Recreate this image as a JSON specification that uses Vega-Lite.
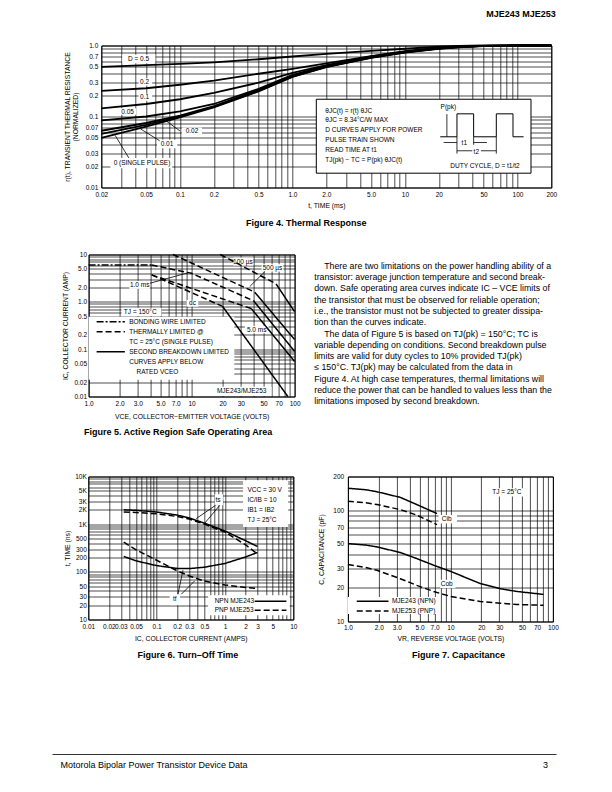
{
"$schema":"https://vega.github.io/schema/vega-lite/v6.json",
"padding":{"left":52,"top":9.5,"right":4,"bottom":4},
"title":{"text":"MJE243 MJE253","anchor":"end","frame":"bounds","fontSize":9,"fontWeight":"bold","offset":22,"dx":-3},
"config":{
 "font":"Liberation Sans",
 "view":{"stroke":"#000","strokeWidth":1},
 "mark":{"color":"#000"},
 "axis":{"grid":true,"gridColor":"#000","gridOpacity":1,"gridWidth":0.7,"domain":false,"ticks":false,"labelFontSize":6.5,"labelColor":"#000","titleFontSize":6.8,"titleFontWeight":"normal","titleColor":"#000","labelOverlap":false,"labelFlush":false,"labelBound":false},
 "title":{"fontSize":9,"fontWeight":"bold","color":"#000","frame":"group","anchor":"middle"},
 "text":{"fontSize":6.5,"baseline":"middle"}
},
"datasets":{
 "f4lines":[
  {"s":"a","x":0.02,"y":0.5},{"s":"a","x":0.05,"y":0.53},{"s":"a","x":0.1,"y":0.55},{"s":"a","x":0.2,"y":0.58},{"s":"a","x":0.5,"y":0.64},{"s":"a","x":1,"y":0.7},{"s":"a","x":2,"y":0.76},{"s":"a","x":5,"y":0.84},{"s":"a","x":10,"y":0.9},{"s":"a","x":20,"y":0.96},{"s":"a","x":30,"y":0.99},{"s":"a","x":50,"y":1},{"s":"a","x":100,"y":1},{"s":"a","x":200,"y":1},
  {"s":"b","x":0.02,"y":0.23},{"s":"b","x":0.05,"y":0.25},{"s":"b","x":0.1,"y":0.28},{"s":"b","x":0.2,"y":0.32},{"s":"b","x":0.5,"y":0.4},{"s":"b","x":1,"y":0.47},{"s":"b","x":2,"y":0.56},{"s":"b","x":5,"y":0.71},{"s":"b","x":10,"y":0.83},{"s":"b","x":20,"y":0.93},{"s":"b","x":30,"y":0.97},{"s":"b","x":50,"y":0.99},{"s":"b","x":100,"y":1},{"s":"b","x":200,"y":1},
  {"s":"c","x":0.02,"y":0.13},{"s":"c","x":0.05,"y":0.15},{"s":"c","x":0.1,"y":0.175},{"s":"c","x":0.2,"y":0.215},{"s":"c","x":0.5,"y":0.3},{"s":"c","x":1,"y":0.41},{"s":"c","x":2,"y":0.53},{"s":"c","x":5,"y":0.7},{"s":"c","x":10,"y":0.82},{"s":"c","x":20,"y":0.92},{"s":"c","x":30,"y":0.96},{"s":"c","x":50,"y":0.99},{"s":"c","x":100,"y":1},{"s":"c","x":200,"y":1},
  {"s":"d","x":0.02,"y":0.088},{"s":"d","x":0.05,"y":0.1},{"s":"d","x":0.1,"y":0.118},{"s":"d","x":0.2,"y":0.15},{"s":"d","x":0.5,"y":0.245},{"s":"d","x":1,"y":0.385},{"s":"d","x":2,"y":0.515},{"s":"d","x":5,"y":0.69},{"s":"d","x":10,"y":0.81},{"s":"d","x":20,"y":0.915},{"s":"d","x":30,"y":0.955},{"s":"d","x":50,"y":0.99},{"s":"d","x":100,"y":1},{"s":"d","x":200,"y":1},
  {"s":"e","x":0.02,"y":0.063},{"s":"e","x":0.05,"y":0.081},{"s":"e","x":0.1,"y":0.103},{"s":"e","x":0.2,"y":0.14},{"s":"e","x":0.5,"y":0.235},{"s":"e","x":1,"y":0.37},{"s":"e","x":2,"y":0.505},{"s":"e","x":5,"y":0.68},{"s":"e","x":10,"y":0.805},{"s":"e","x":20,"y":0.91},{"s":"e","x":30,"y":0.95},{"s":"e","x":50,"y":0.985},{"s":"e","x":100,"y":1},{"s":"e","x":200,"y":1},
  {"s":"f","x":0.02,"y":0.057},{"s":"f","x":0.05,"y":0.076},{"s":"f","x":0.1,"y":0.1},{"s":"f","x":0.2,"y":0.137},{"s":"f","x":0.5,"y":0.23},{"s":"f","x":1,"y":0.365},{"s":"f","x":2,"y":0.5},{"s":"f","x":5,"y":0.675},{"s":"f","x":10,"y":0.8},{"s":"f","x":20,"y":0.905},{"s":"f","x":30,"y":0.95},{"s":"f","x":50,"y":0.985},{"s":"f","x":100,"y":1},{"s":"f","x":200,"y":1},
  {"s":"g","x":0.02,"y":0.05},{"s":"g","x":0.05,"y":0.072},{"s":"g","x":0.1,"y":0.097},{"s":"g","x":0.2,"y":0.134},{"s":"g","x":0.5,"y":0.225},{"s":"g","x":1,"y":0.36},{"s":"g","x":2,"y":0.495},{"s":"g","x":5,"y":0.67},{"s":"g","x":10,"y":0.795},{"s":"g","x":20,"y":0.9},{"s":"g","x":30,"y":0.945},{"s":"g","x":50,"y":0.98},{"s":"g","x":100,"y":1},{"s":"g","x":200,"y":1}
 ],
 "f4box":[
  {"x":0.0307,"x2":0.0605,"y":0.563,"y2":0.74},
  {"x":0.0429,"x2":0.0566,"y":0.273,"y2":0.346},
  {"x":0.0429,"x2":0.0566,"y":0.166,"y2":0.209},
  {"x":0.0292,"x2":0.0409,"y":0.106,"y2":0.131},
  {"x":0.104,"x2":0.157,"y":0.0541,"y2":0.0701},
  {"x":0.0625,"x2":0.0945,"y":0.0358,"y2":0.047},
  {"x":0.0241,"x2":0.0853,"y":0.0187,"y2":0.0261}
 ],
 "f4inset":[{"x":1.63,"x2":132,"y":0.0159,"y2":0.175}],
 "f4wave":[
  {"k":1,"x":20.6,"y":0.0518},{"k":2,"x":29,"y":0.0518},{"k":3,"x":29,"y":0.109},{"k":4,"x":40.8,"y":0.109},{"k":5,"x":40.8,"y":0.0518},{"k":6,"x":64.9,"y":0.0518},{"k":7,"x":64.9,"y":0.109},{"k":8,"x":91.3,"y":0.109},{"k":9,"x":91.3,"y":0.0518},{"k":10,"x":113.5,"y":0.0518}
 ],
 "f4rules":[
  {"x":0.1,"y":0.0627,"x2":0.075,"y2":0.0872},
  {"x":0.066,"y":0.0455,"x2":0.0445,"y2":0.0671},
  {"x":0.0351,"y":0.0261,"x2":0.0266,"y2":0.0541},
  {"x":23.6,"y":0.108,"x2":23.6,"y2":0.052},
  {"x":22.1,"y":0.043,"x2":29,"y2":0.043},
  {"x":40.8,"y":0.043,"x2":53.6,"y2":0.043},
  {"x":29,"y":0.0329,"x2":39.7,"y2":0.0329},
  {"x":47.4,"y":0.0329,"x2":64.9,"y2":0.0329},
  {"x":29,"y":0.0518,"x2":29,"y2":0.03},
  {"x":40.8,"y":0.0518,"x2":40.8,"y2":0.04},
  {"x":64.9,"y":0.0518,"x2":64.9,"y2":0.03}
 ],
 "f4text":[
  {"al":"c","x":0.0429,"y":0.65,"txt":"D = 0.5"},
  {"al":"c","x":0.0485,"y":0.311,"txt":"0.2"},
  {"al":"c","x":0.0485,"y":0.187,"txt":"0.1"},
  {"al":"c","x":0.0343,"y":0.1175,"txt":"0.05"},
  {"al":"c","x":0.128,"y":0.0615,"txt":"0.02"},
  {"al":"c","x":0.0767,"y":0.0412,"txt":"0.01"},
  {"al":"c","x":0.046,"y":0.022,"txt":"0 (SINGLE PULSE)"},
  {"al":"c","x":24.3,"y":0.134,"txt":"P(pk)"},
  {"al":"c","x":33.7,"y":0.043,"txt":"t1"},
  {"al":"c","x":43.1,"y":0.0314,"txt":"t2"},
  {"al":"l","x":1.96,"y":0.12,"txt":"θJC(t) = r(t) θJC"},
  {"al":"l","x":1.96,"y":0.0879,"txt":"θJC = 8.34°C/W MAX"},
  {"al":"l","x":1.96,"y":0.0641,"txt":"D CURVES APPLY FOR POWER"},
  {"al":"l","x":1.96,"y":0.0464,"txt":"PULSE TRAIN SHOWN"},
  {"al":"l","x":1.96,"y":0.034,"txt":"READ TIME AT t1"},
  {"al":"l","x":1.96,"y":0.0246,"txt":"TJ(pk) − TC = P(pk) θJC(t)"},
  {"al":"l","x":25.3,"y":0.0198,"txt":"DUTY CYCLE, D = t1/t2"}
 ],
 "f5lines":[
  {"s":"bw","st":"dd","x":1,"y":6},{"s":"bw","st":"dd","x":4.1,"y":6},
  {"s":"a1","st":"d","x":19,"y":10},{"s":"a1","st":"d","x":66,"y":2.4},
  {"s":"a2","st":"s","x":66,"y":2.4},{"s":"a2","st":"s","x":100,"y":0.62},
  {"s":"b1","st":"d","x":6.6,"y":10},{"s":"b1","st":"d","x":41,"y":1.6},
  {"s":"b2","st":"s","x":41,"y":1.6},{"s":"b2","st":"s","x":100,"y":0.16},
  {"s":"c1","st":"d","x":4.1,"y":6},{"s":"c1","st":"d","x":10,"y":4},{"s":"c1","st":"d","x":40,"y":1.05},
  {"s":"c2","st":"s","x":40,"y":1.05},{"s":"c2","st":"s","x":100,"y":0.09},
  {"s":"e1","st":"d","x":4.1,"y":3.7},{"s":"e1","st":"d","x":38,"y":0.72},
  {"s":"e2","st":"s","x":38,"y":0.72},{"s":"e2","st":"s","x":100,"y":0.055},
  {"s":"f1","st":"d","x":4.1,"y":3.7},{"s":"f1","st":"d","x":20,"y":0.8},
  {"s":"f2","st":"s","x":20,"y":0.8},{"s":"f2","st":"s","x":86,"y":0.01},
  {"s":"lbw","st":"dd","x":1.196,"y":0.381},{"s":"lbw","st":"dd","x":2.25,"y":0.381},
  {"s":"lth","st":"d","x":1.196,"y":0.234},{"s":"lth","st":"d","x":2.25,"y":0.234},
  {"s":"lsb","st":"s","x":1.196,"y":0.0881},{"s":"lsb","st":"s","x":2.25,"y":0.0881}
 ],
 "f5box":[
  {"x":1,"x2":26,"y":0.0225,"y2":0.486},
  {"x":2.09,"x2":5.1,"y":0.5,"y2":0.75},
  {"x":25.4,"x2":39.7,"y":5.85,"y2":8.64},
  {"x":47.8,"x2":77.7,"y":4.36,"y2":6.23},
  {"x":2.48,"x2":3.94,"y":1.88,"y2":2.77},
  {"x":8.93,"x2":11.6,"y":0.79,"y2":1.1},
  {"x":32.9,"x2":55.7,"y":0.216,"y2":0.31},
  {"x":15.7,"x2":59.7,"y":0.0103,"y2":0.016}
 ],
 "f5rules":[
  {"x":51.5,"y":4.37,"x2":36.7,"y2":2.1},
  {"x":3.94,"y":2.47,"x2":9.2,"y2":4.1}
 ],
 "f5text":[
  {"al":"c","x":31.5,"y":7.1,"txt":"100 µs"},
  {"al":"c","x":61,"y":5.2,"txt":"500 µs"},
  {"al":"c","x":3.13,"y":2.28,"txt":"1.0 ms"},
  {"al":"c","x":10.2,"y":0.93,"txt":"dc"},
  {"al":"c","x":42.8,"y":0.26,"txt":"5.0 ms"},
  {"al":"c","x":30.6,"y":0.0128,"txt":"MJE243/MJE253"},
  {"al":"l","x":2.2,"y":0.62,"txt":"TJ = 150°C"},
  {"al":"l","x":2.48,"y":0.381,"txt":"BONDING WIRE LIMITED"},
  {"al":"l","x":2.48,"y":0.234,"txt":"THERMALLY LIMITED @"},
  {"al":"l","x":2.48,"y":0.1436,"txt":"TC = 25°C (SINGLE PULSE)"},
  {"al":"l","x":2.48,"y":0.0881,"txt":"SECOND BREAKDOWN LIMITED"},
  {"al":"l","x":2.48,"y":0.0541,"txt":"CURVES APPLY BELOW"},
  {"al":"l","x":2.92,"y":0.0332,"txt":"RATED VCEO"}
 ],
 "f6lines":[
  {"s":"tsn","st":"s","x":0.033,"y":2000},{"s":"tsn","st":"s","x":0.05,"y":1950},{"s":"tsn","st":"s","x":0.1,"y":1800},{"s":"tsn","st":"s","x":0.2,"y":1550},{"s":"tsn","st":"s","x":0.3,"y":1350},{"s":"tsn","st":"s","x":0.5,"y":1050},{"s":"tsn","st":"s","x":1,"y":720},{"s":"tsn","st":"s","x":2,"y":450},{"s":"tsn","st":"s","x":3,"y":340},
  {"s":"tsp","st":"d","x":0.033,"y":1800},{"s":"tsp","st":"d","x":0.05,"y":1760},{"s":"tsp","st":"d","x":0.1,"y":1650},{"s":"tsp","st":"d","x":0.2,"y":1450},{"s":"tsp","st":"d","x":0.3,"y":1280},{"s":"tsp","st":"d","x":0.5,"y":1000},{"s":"tsp","st":"d","x":1,"y":680},{"s":"tsp","st":"d","x":2,"y":370},{"s":"tsp","st":"d","x":3,"y":235},
  {"s":"tfn","st":"s","x":0.033,"y":210},{"s":"tfn","st":"s","x":0.05,"y":170},{"s":"tfn","st":"s","x":0.1,"y":135},{"s":"tfn","st":"s","x":0.2,"y":118},{"s":"tfn","st":"s","x":0.3,"y":117},{"s":"tfn","st":"s","x":0.5,"y":125},{"s":"tfn","st":"s","x":1,"y":150},{"s":"tfn","st":"s","x":2,"y":205},{"s":"tfn","st":"s","x":3,"y":255},
  {"s":"tfp","st":"d","x":0.033,"y":420},{"s":"tfp","st":"d","x":0.05,"y":290},{"s":"tfp","st":"d","x":0.1,"y":175},{"s":"tfp","st":"d","x":0.2,"y":105},{"s":"tfp","st":"d","x":0.3,"y":82},{"s":"tfp","st":"d","x":0.5,"y":64},{"s":"tfp","st":"d","x":1,"y":53},{"s":"tfp","st":"d","x":2,"y":47},{"s":"tfp","st":"d","x":3,"y":45},
  {"s":"ln","st":"s","x":2.72,"y":24.2},{"s":"ln","st":"s","x":7.93,"y":24.2},
  {"s":"lp","st":"d","x":2.72,"y":15.7},{"s":"lp","st":"d","x":7.93,"y":15.7}
 ],
 "f6box":[
  {"x":1.84,"x2":8.4,"y":877,"y2":8320},
  {"x":0.566,"x2":8.85,"y":12.3,"y2":32.3},
  {"x":0.706,"x2":0.935,"y":2490,"y2":4240},
  {"x":0.155,"x2":0.22,"y":20,"y2":34}
 ],
 "f6rules":[
  {"x":0.73,"y":2490,"x2":0.38,"y2":1310},
  {"x":0.84,"y":2490,"x2":0.5,"y2":1030},
  {"x":0.205,"y":33.9,"x2":0.243,"y2":108},
  {"x":0.23,"y":33.9,"x2":0.36,"y2":64.6}
 ],
 "f6text":[
  {"al":"c","x":0.79,"y":3280,"txt":"ts"},
  {"al":"c","x":0.184,"y":26.3,"txt":"tf"},
  {"al":"l","x":2.13,"y":5310,"txt":"VCC = 30 V"},
  {"al":"l","x":2.13,"y":3280,"txt":"IC/IB = 10"},
  {"al":"l","x":2.13,"y":2023,"txt":"IB1 = IB2"},
  {"al":"l","x":2.13,"y":1248,"txt":"TJ = 25°C"},
  {"al":"l","x":0.706,"y":24.2,"txt":"NPN MJE243"},
  {"al":"l","x":0.706,"y":15.7,"txt":"PNP MJE253"}
 ],
 "f7lines":[
  {"s":"cin","st":"s","x":1,"y":157},{"s":"cin","st":"s","x":1.5,"y":152},{"s":"cin","st":"s","x":1.92,"y":146},{"s":"cin","st":"s","x":3.24,"y":130},{"s":"cin","st":"s","x":4.7,"y":112},{"s":"cin","st":"s","x":7.4,"y":93},
  {"s":"cip","st":"d","x":1,"y":120},{"s":"cip","st":"d","x":1.5,"y":116},{"s":"cip","st":"d","x":1.92,"y":112},{"s":"cip","st":"d","x":3.24,"y":101},{"s":"cip","st":"d","x":4.7,"y":90},{"s":"cip","st":"d","x":7.4,"y":74},
  {"s":"con","st":"s","x":1,"y":50},{"s":"con","st":"s","x":1.5,"y":48.5},{"s":"con","st":"s","x":1.92,"y":46.7},{"s":"con","st":"s","x":3.24,"y":41.6},{"s":"con","st":"s","x":4.7,"y":36.7},{"s":"con","st":"s","x":6.85,"y":32},{"s":"con","st":"s","x":10,"y":28.2},{"s":"con","st":"s","x":19.6,"y":21.9},{"s":"con","st":"s","x":30.6,"y":19.7},{"s":"con","st":"s","x":44.5,"y":18.6},{"s":"con","st":"s","x":81,"y":17.5},
  {"s":"cop","st":"d","x":1,"y":32.4},{"s":"cop","st":"d","x":1.5,"y":30.5},{"s":"cop","st":"d","x":1.92,"y":28.8},{"s":"cop","st":"d","x":3.24,"y":24.2},{"s":"cop","st":"d","x":4.7,"y":21.1},{"s":"cop","st":"d","x":6.85,"y":18.6},{"s":"cop","st":"d","x":10,"y":16.8},{"s":"cop","st":"d","x":19.6,"y":15.1},{"s":"cop","st":"d","x":30.6,"y":14.6},{"s":"cop","st":"d","x":44.5,"y":14.2},{"s":"cop","st":"d","x":81,"y":14},
  {"s":"ln","st":"s","x":1.22,"y":15.2},{"s":"ln","st":"s","x":2.49,"y":15.2},
  {"s":"lp","st":"d","x":1.22,"y":12.4},{"s":"lp","st":"d","x":2.49,"y":12.4}
 ],
 "f7box":[
  {"x":7.66,"x2":11.6,"y":75.9,"y2":90.2},
  {"x":7.93,"x2":11.2,"y":19.9,"y2":23.7},
  {"x":24.5,"x2":51.9,"y":132,"y2":157},
  {"x":1,"x2":7.6,"y":11.7,"y2":16.6}
 ],
 "f7text":[
  {"al":"c","x":9.2,"y":83,"txt":"Cib"},
  {"al":"c","x":9.2,"y":21.9,"txt":"Cob"},
  {"al":"c","x":35.6,"y":144,"txt":"TJ = 25°C"},
  {"al":"l","x":2.69,"y":15.2,"txt":"MJE243 (NPN)"},
  {"al":"l","x":2.69,"y":12.4,"txt":"MJE253 (PNP)"}
 ],
 "para":[
  {"line":1,"ind":1,"txt":"There are two limitations on the power handling ability of a"},
  {"line":2,"ind":0,"txt":"transistor: average junction temperature and second break-"},
  {"line":3,"ind":0,"txt":"down. Safe operating area curves indicate IC – VCE limits of"},
  {"line":4,"ind":0,"txt":"the transistor that must be observed for reliable operation;"},
  {"line":5,"ind":0,"txt":"i.e., the transistor must not be subjected to greater dissipa-"},
  {"line":6,"ind":0,"txt":"tion than the curves indicate."},
  {"line":7,"ind":1,"txt":"The data of Figure 5 is based on TJ(pk) = 150°C; TC is"},
  {"line":8,"ind":0,"txt":"variable depending on conditions. Second breakdown pulse"},
  {"line":9,"ind":0,"txt":"limits are valid for duty cycles to 10% provided TJ(pk)"},
  {"line":10,"ind":0,"txt":"≤ 150°C.  TJ(pk) may be calculated from the data in"},
  {"line":11,"ind":0,"txt":"Figure 4. At high case temperatures, thermal limitations will"},
  {"line":12,"ind":0,"txt":"reduce the power that can be handled to values less than the"},
  {"line":13,"ind":0,"txt":"limitations imposed by second breakdown."}
 ],
 "footer":[
  {"pos":"left","txt":"Motorola Bipolar Power Transistor Device Data"},
  {"pos":"right","txt":"3"}
 ],
 "nothing":[]
},
"columns":1,
"align":"none",
"spacing":22,
"concat":[
 {
  "spacing":10.3,
  "hconcat":[
   {"width":1,"height":1,"view":{"stroke":null},"data":{"name":"nothing"},"mark":"point"},
   {
    "width":450,"height":142,
    "title":{"text":"Figure 4. Thermal Response","orient":"bottom","dx":-20,"offset":10},
    "encoding":{
     "x":{"field":"x","type":"quantitative","scale":{"type":"log","domain":[0.02,200],"nice":false},"axis":{"title":"t, TIME (ms)","values":[0.02,0.03,0.04,0.05,0.06,0.07,0.08,0.09,0.1,0.2,0.3,0.4,0.5,0.6,0.7,0.8,0.9,1,2,3,4,5,6,7,8,9,10,20,30,40,50,60,70,80,90,100,200],"labelExpr":"indexof([0.02,0.05,0.1,0.2,0.5,1,2,5,10,20,50,100,200], datum.value) < 0 ? '' : datum.value < 0.1 ? format(datum.value, '.2f') : datum.value < 10 ? format(datum.value, '.1f') : format(datum.value, 'd')","labelPadding":3.5,"titlePadding":4.5}},
     "y":{"field":"y","type":"quantitative","scale":{"type":"log","domain":[0.01,1],"nice":false},"axis":{"title":["r(t), TRANSIENT THERMAL RESISTANCE","(NORMALIZED)"],"titleLineHeight":8.3,"values":[0.01,0.02,0.03,0.04,0.05,0.06,0.07,0.08,0.09,0.1,0.2,0.3,0.4,0.5,0.6,0.7,0.8,0.9,1],"labelExpr":"indexof([0.01,0.02,0.03,0.05,0.07,0.1,0.2,0.3,0.5,0.7,1], datum.value) < 0 ? '' : datum.value < 0.1 ? format(datum.value, '.2f') : format(datum.value, '.1f')","labelPadding":3.5,"titlePadding":6.5}}
    },
    "layer":[
     {"data":{"name":"f4box"},"mark":{"type":"rect","fill":"#fff"},"encoding":{"x2":{"field":"x2"},"y2":{"field":"y2"}}},
     {"data":{"name":"f4inset"},"mark":{"type":"rect","fill":"#fff","stroke":"#000","strokeWidth":1},"encoding":{"x2":{"field":"x2"},"y2":{"field":"y2"}}},
     {"data":{"name":"f4lines"},"mark":{"type":"line","strokeWidth":1.8},"encoding":{"detail":{"field":"s","type":"nominal"}}},
     {"data":{"name":"f4wave"},"mark":{"type":"line","strokeWidth":1},"encoding":{"order":{"field":"k","type":"quantitative"}}},
     {"data":{"name":"f4rules"},"mark":{"type":"rule","strokeWidth":0.8},"encoding":{"x2":{"field":"x2"},"y2":{"field":"y2"}}},
     {"data":{"name":"f4text"},"transform":[{"filter":"datum.al == 'c'"}],"mark":{"type":"text","align":"center"},"encoding":{"text":{"field":"txt"}}},
     {"data":{"name":"f4text"},"transform":[{"filter":"datum.al == 'l'"}],"mark":{"type":"text","align":"left"},"encoding":{"text":{"field":"txt"}}}
    ]
   }
  ]
 },
 {
  "columns":1,
  "align":"none",
  "spacing":34,
  "concat":[
   {
    "spacing":8.6,
    "hconcat":[
     {"width":1,"height":1,"view":{"stroke":null},"data":{"name":"nothing"},"mark":"point"},
     {
      "spacing":13.6,
      "hconcat":[
       {
        "width":206,"height":142,
        "title":{"text":"Figure 5. Active Region Safe Operating Area","orient":"bottom","dx":-13.5,"offset":8.5},
        "encoding":{
         "x":{"field":"x","type":"quantitative","scale":{"type":"log","domain":[1,100],"nice":false},"axis":{"title":"VCE, COLLECTOR−EMITTER VOLTAGE (VOLTS)","values":[1,2,3,4,5,6,7,8,9,10,20,30,40,50,60,70,80,90,100],"labelExpr":"indexof([1,2,3,5,7,10,20,30,50,70,100], datum.value) < 0 ? '' : datum.value < 10 ? format(datum.value, '.1f') : format(datum.value, 'd')","labelPadding":4,"titlePadding":6}},
         "y":{"field":"y","type":"quantitative","scale":{"type":"log","domain":[0.01,10],"nice":false},"axis":{"title":"IC, COLLECTOR CURRENT (AMP)","values":[0.01,0.02,0.03,0.04,0.05,0.06,0.07,0.08,0.09,0.1,0.2,0.3,0.4,0.5,0.6,0.7,0.8,0.9,1,2,3,4,5,6,7,8,9,10],"labelExpr":"indexof([0.01,0.02,0.05,0.1,0.2,0.5,1,2,5,10], datum.value) < 0 ? '' : datum.value < 0.1 ? format(datum.value, '.2f') : datum.value < 10 ? format(datum.value, '.1f') : format(datum.value, 'd')","labelPadding":2,"titlePadding":5}}
        },
        "layer":[
         {"data":{"name":"f5box"},"mark":{"type":"rect","fill":"#fff"},"encoding":{"x2":{"field":"x2"},"y2":{"field":"y2"}}},
         {"data":{"name":"f5lines"},"mark":{"type":"line","strokeWidth":1.5},"encoding":{"detail":{"field":"s","type":"nominal"},"strokeDash":{"field":"st","type":"nominal","scale":{"domain":["s","d","dd"],"range":[[1,0],[6,3],[7,2,2,2]]},"legend":null}}},
         {"data":{"name":"f5rules"},"mark":{"type":"rule","strokeWidth":0.8},"encoding":{"x2":{"field":"x2"},"y2":{"field":"y2"}}},
         {"data":{"name":"f5text"},"transform":[{"filter":"datum.al == 'c'"}],"mark":{"type":"text","align":"center"},"encoding":{"text":{"field":"txt"}}},
         {"data":{"name":"f5text"},"transform":[{"filter":"datum.al == 'l'"}],"mark":{"type":"text","align":"left"},"encoding":{"text":{"field":"txt"}}}
        ]
       },
       {
        "width":238,"height":158,"view":{"stroke":null},
        "data":{"name":"para"},
        "mark":{"type":"text","align":"left","baseline":"middle","fontSize":8.8},
        "encoding":{
         "x":{"field":"ind","type":"quantitative","scale":{"domain":[0,23.8],"nice":false},"axis":null},
         "y":{"field":"line","type":"ordinal","scale":{"type":"point","padding":1.288},"axis":null},
         "text":{"field":"txt"}
        }
       }
      ]
     }
    ]
   },
   {
    "columns":1,
    "align":"none",
    "spacing":92.5,
    "concat":[
     {
      "spacing":10.3,
      "hconcat":[
       {"width":1,"height":1,"view":{"stroke":null},"data":{"name":"nothing"},"mark":"point"},
       {
        "spacing":18.6,
        "hconcat":[
         {
          "width":205,"height":143,
          "title":{"text":"Figure 6. Turn–Off Time","orient":"bottom","dx":-3,"offset":9.2},
          "encoding":{
           "x":{"field":"x","type":"quantitative","scale":{"type":"log","domain":[0.01,10],"nice":false},"axis":{"title":"IC, COLLECTOR CURRENT (AMPS)","values":[0.01,0.02,0.03,0.04,0.05,0.06,0.07,0.08,0.09,0.1,0.2,0.3,0.4,0.5,0.6,0.7,0.8,0.9,1,2,3,4,5,6,7,8,9,10],"labelExpr":"indexof([0.01,0.02,0.03,0.05,0.1,0.2,0.3,0.5,1,2,3,5,10], datum.value) < 0 ? '' : '' + datum.value","labelPadding":4.4,"titlePadding":5}},
           "y":{"field":"y","type":"quantitative","scale":{"type":"log","domain":[10,10000],"nice":false},"axis":{"title":"t, TIME (ns)","values":[10,20,30,40,50,60,70,80,90,100,200,300,400,500,600,700,800,900,1000,2000,3000,4000,5000,6000,7000,8000,9000,10000],"labelExpr":"indexof([10,20,30,50,100,200,300,500,1000,2000,3000,5000,10000], datum.value) < 0 ? '' : datum.value >= 1000 ? (datum.value / 1000) + 'K' : '' + datum.value","labelPadding":2,"titlePadding":4.3}}
          },
          "layer":[
           {"data":{"name":"f6box"},"mark":{"type":"rect","fill":"#fff"},"encoding":{"x2":{"field":"x2"},"y2":{"field":"y2"}}},
           {"data":{"name":"f6lines"},"mark":{"type":"line","strokeWidth":1.5},"encoding":{"detail":{"field":"s","type":"nominal"},"strokeDash":{"field":"st","type":"nominal","scale":{"domain":["s","d"],"range":[[1,0],[7,3]]},"legend":null}}},
           {"data":{"name":"f6rules"},"mark":{"type":"rule","strokeWidth":0.8},"encoding":{"x2":{"field":"x2"},"y2":{"field":"y2"}}},
           {"data":{"name":"f6text"},"transform":[{"filter":"datum.al == 'c'"}],"mark":{"type":"text","align":"center"},"encoding":{"text":{"field":"txt"}}},
           {"data":{"name":"f6text"},"transform":[{"filter":"datum.al == 'l'"}],"mark":{"type":"text","align":"left"},"encoding":{"text":{"field":"txt"}}}
          ]
         },
         {
          "width":205,"height":145,
          "title":{"text":"Figure 7. Capacitance","orient":"bottom","dx":8,"offset":9.2},
          "encoding":{
           "x":{"field":"x","type":"quantitative","scale":{"type":"log","domain":[1,100],"nice":false},"axis":{"title":"VR, REVERSE VOLTAGE (VOLTS)","values":[1,2,3,4,5,6,7,8,9,10,20,30,40,50,60,70,80,90,100],"labelExpr":"indexof([1,2,3,5,7,10,20,30,50,70,100], datum.value) < 0 ? '' : datum.value < 10 ? format(datum.value, '.1f') : format(datum.value, 'd')","labelPadding":3.4,"titlePadding":4}},
           "y":{"field":"y","type":"quantitative","scale":{"type":"log","domain":[10,200],"nice":false},"axis":{"title":"C, CAPACITANCE (pF)","values":[10,20,30,40,50,60,70,80,90,100,200],"labelExpr":"indexof([10,20,30,50,70,100,200], datum.value) < 0 ? '' : '' + datum.value","labelPadding":4.2,"titlePadding":8.6}}
          },
          "layer":[
           {"data":{"name":"f7box"},"mark":{"type":"rect","fill":"#fff"},"encoding":{"x2":{"field":"x2"},"y2":{"field":"y2"}}},
           {"data":{"name":"f7lines"},"mark":{"type":"line","strokeWidth":1.5},"encoding":{"detail":{"field":"s","type":"nominal"},"strokeDash":{"field":"st","type":"nominal","scale":{"domain":["s","d"],"range":[[1,0],[7,3]]},"legend":null}}},
           {"data":{"name":"f7text"},"transform":[{"filter":"datum.al == 'c'"}],"mark":{"type":"text","align":"center"},"encoding":{"text":{"field":"txt"}}},
           {"data":{"name":"f7text"},"transform":[{"filter":"datum.al == 'l'"}],"mark":{"type":"text","align":"left"},"encoding":{"text":{"field":"txt"}}}
          ]
         }
        ]
       }
      ]
     },
     {
      "width":504,"height":21,"view":{"stroke":null},
      "data":{"name":"footer"},
      "encoding":{
       "x":{"field":"pos","type":"nominal","scale":{"type":"point","domain":["left","right"],"padding":0},"axis":{"orient":"top","domain":true,"domainColor":"#000","domainWidth":0.8,"labels":false,"ticks":false,"grid":false,"title":null}},
       "text":{"field":"txt"}
      },
      "layer":[
       {"transform":[{"filter":"datum.pos == 'left'"}],"mark":{"type":"text","align":"left","baseline":"middle","fontSize":9,"dx":8.5}},
       {"transform":[{"filter":"datum.pos == 'right'"}],"mark":{"type":"text","align":"right","baseline":"middle","fontSize":9,"dx":-8}}
      ]
     }
    ]
   }
  ]
 }
]
}
